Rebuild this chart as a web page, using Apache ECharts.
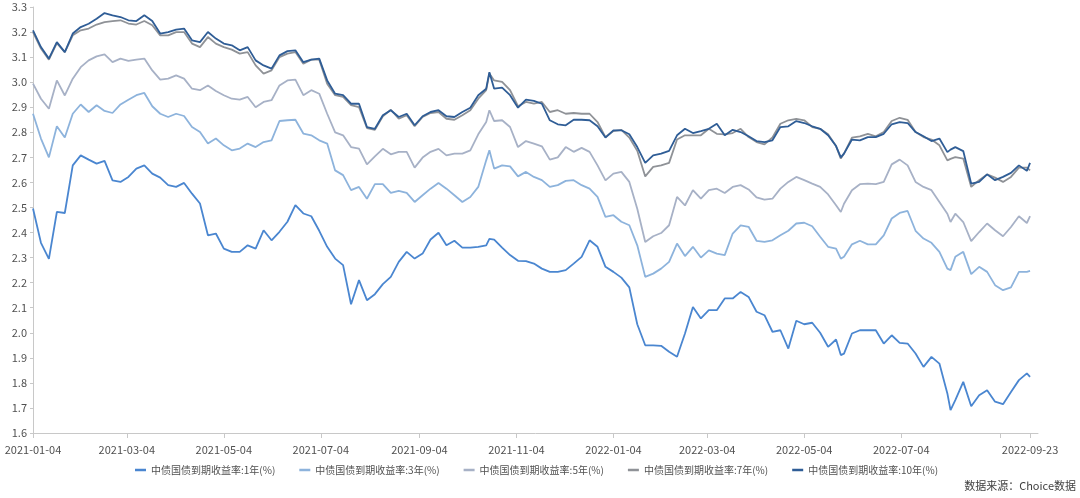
<!DOCTYPE html>
<html>
<head>
<meta charset="utf-8">
<script src="https://cdn.jsdelivr.net/npm/echarts@6/dist/echarts.min.js"></script>
<style>
html,body{margin:0;padding:0;background:#fff;}
#chart{width:1080px;height:498px;}
</style>
</head>
<body>
<div id="chart"></div>
<script>
const dates = [
'2021-01-04','2021-01-09','2021-01-14','2021-01-19','2021-01-24','2021-01-29','2021-02-03','2021-02-08','2021-02-13','2021-02-18','2021-02-23','2021-02-28',
'2021-03-05','2021-03-10','2021-03-15','2021-03-20','2021-03-25','2021-03-30','2021-04-04','2021-04-09','2021-04-14','2021-04-19','2021-04-24','2021-04-29',
'2021-05-04','2021-05-09','2021-05-14','2021-05-19','2021-05-24','2021-05-29','2021-06-03','2021-06-08','2021-06-13','2021-06-18','2021-06-23','2021-06-28',
'2021-07-03','2021-07-08','2021-07-13','2021-07-18','2021-07-23','2021-07-28',
'2021-08-02','2021-08-07','2021-08-12','2021-08-17','2021-08-22','2021-08-27','2021-09-01','2021-09-06','2021-09-11','2021-09-16','2021-09-21','2021-09-26',
'2021-10-01','2021-10-06','2021-10-11','2021-10-16','2021-10-18','2021-10-21','2021-10-26','2021-10-31','2021-11-05','2021-11-10','2021-11-15','2021-11-20','2021-11-25',
'2021-11-30','2021-12-05','2021-12-10','2021-12-15','2021-12-20','2021-12-25','2021-12-30','2022-01-04','2022-01-09','2022-01-14','2022-01-19','2022-01-24','2022-01-29',
'2022-02-03','2022-02-08','2022-02-13','2022-02-18','2022-02-23','2022-02-28','2022-03-05','2022-03-10',
'2022-03-15','2022-03-20','2022-03-25','2022-03-30','2022-04-04','2022-04-09','2022-04-14','2022-04-19','2022-04-24','2022-04-29',
'2022-05-04','2022-05-09','2022-05-14','2022-05-19','2022-05-24','2022-05-27','2022-05-29','2022-06-03','2022-06-08','2022-06-13','2022-06-18','2022-06-23','2022-06-28',
'2022-07-03','2022-07-08','2022-07-13','2022-07-18','2022-07-23','2022-07-28','2022-08-02','2022-08-04','2022-08-07','2022-08-12','2022-08-17','2022-08-22','2022-08-27',
'2022-09-01','2022-09-06','2022-09-11','2022-09-16','2022-09-21','2022-09-23'
];

const y1 = [
2.496,2.359,2.295,2.482,2.478,2.668,2.708,2.691,2.675,2.686,2.608,2.602,
2.622,2.655,2.668,2.635,2.619,2.589,2.582,2.598,2.555,2.516,2.389,2.396,
2.336,2.323,2.323,2.349,2.336,2.409,2.369,2.403,2.443,2.509,2.476,2.465,
2.407,2.343,2.296,2.27,2.114,2.21,
2.13,2.154,2.194,2.223,2.283,2.323,2.296,2.316,2.372,2.399,2.349,2.367,
2.34,2.34,2.343,2.349,2.375,2.372,2.34,2.31,2.287,2.286,2.276,2.256,2.243,
2.243,2.25,2.276,2.303,2.369,2.343,2.263,2.243,2.22,2.181,2.034,1.95,1.95,
1.948,1.924,1.904,1.997,2.103,2.057,2.09,2.09,
2.137,2.137,2.163,2.143,2.084,2.07,2.004,2.01,1.937,2.048,
2.034,2.04,2.0,1.944,1.973,1.911,1.917,1.997,2.01,2.01,2.01,1.957,1.99,
1.96,1.957,1.917,1.864,1.904,1.877,1.758,1.691,1.731,1.804,1.707,1.751,1.771,
1.725,1.715,1.764,1.811,1.838,1.824
];

const y3 = [
2.874,2.775,2.70,2.824,2.779,2.874,2.911,2.881,2.908,2.885,2.877,2.911,
2.93,2.948,2.957,2.904,2.874,2.861,2.874,2.865,2.821,2.801,2.755,2.775,
2.748,2.728,2.735,2.755,2.741,2.761,2.768,2.845,2.848,2.85,2.795,2.788,
2.768,2.755,2.648,2.629,2.569,2.582,
2.535,2.593,2.593,2.558,2.566,2.558,2.522,2.549,2.575,2.598,2.575,2.549,
2.522,2.542,2.582,2.688,2.728,2.655,2.668,2.664,2.624,2.642,2.622,2.609,2.582,
2.589,2.606,2.609,2.589,2.575,2.542,2.462,2.469,2.443,2.429,2.349,2.223,2.236,
2.256,2.283,2.356,2.306,2.343,2.30,2.329,2.316,
2.31,2.396,2.429,2.423,2.367,2.363,2.369,2.389,2.407,2.436,
2.439,2.425,2.383,2.343,2.336,2.296,2.303,2.353,2.367,2.353,2.353,2.389,2.456,
2.478,2.486,2.407,2.376,2.359,2.323,2.256,2.25,2.303,2.323,2.234,2.263,2.243,
2.19,2.17,2.181,2.243,2.243,2.247
];

const y5 = [
2.994,2.934,2.894,3.007,2.947,3.014,3.06,3.087,3.103,3.111,3.08,3.094,
3.085,3.09,3.094,3.047,3.01,3.014,3.027,3.014,2.974,2.968,2.987,2.965,
2.948,2.934,2.93,2.941,2.90,2.921,2.928,2.987,3.007,3.01,2.948,2.968,
2.954,2.874,2.80,2.788,2.741,2.735,
2.672,2.704,2.734,2.712,2.722,2.722,2.659,2.699,2.722,2.734,2.708,2.715,
2.715,2.728,2.792,2.841,2.888,2.845,2.848,2.821,2.741,2.765,2.755,2.744,2.691,
2.70,2.741,2.722,2.738,2.722,2.668,2.608,2.635,2.642,2.602,2.495,2.362,2.385,
2.398,2.429,2.542,2.508,2.569,2.535,2.569,2.575,
2.558,2.582,2.589,2.572,2.54,2.531,2.535,2.575,2.602,2.622,
2.609,2.595,2.582,2.552,2.509,2.482,2.515,2.569,2.593,2.595,2.593,2.602,2.672,
2.691,2.668,2.602,2.582,2.569,2.522,2.475,2.442,2.475,2.442,2.366,2.402,2.436,
2.409,2.385,2.422,2.465,2.438,2.465
];

const y7 = [
3.20,3.134,3.09,3.156,3.12,3.187,3.207,3.214,3.23,3.24,3.244,3.247,
3.234,3.23,3.244,3.227,3.187,3.187,3.20,3.20,3.154,3.14,3.18,3.154,
3.14,3.13,3.114,3.12,3.067,3.034,3.047,3.10,3.114,3.12,3.074,3.09,
3.09,2.994,2.948,2.941,2.908,2.90,
2.817,2.81,2.864,2.89,2.854,2.868,2.824,2.861,2.877,2.881,2.854,2.85,
2.868,2.888,2.934,2.968,3.035,3.007,3.001,2.968,2.904,2.921,2.914,2.921,2.881,
2.888,2.874,2.877,2.874,2.874,2.841,2.781,2.805,2.81,2.779,2.726,2.624,2.662,
2.668,2.678,2.771,2.788,2.788,2.788,2.814,2.794,
2.792,2.797,2.814,2.781,2.761,2.752,2.779,2.834,2.848,2.854,
2.848,2.821,2.814,2.792,2.745,2.695,2.715,2.779,2.784,2.794,2.784,2.801,2.845,
2.858,2.85,2.801,2.781,2.771,2.748,2.688,2.694,2.701,2.695,2.582,2.609,2.632,
2.619,2.602,2.622,2.659,2.659,2.648
];

const y10 = [
3.207,3.14,3.094,3.16,3.12,3.194,3.22,3.233,3.253,3.276,3.267,3.26,
3.247,3.244,3.267,3.244,3.194,3.20,3.21,3.214,3.167,3.16,3.20,3.174,
3.154,3.147,3.127,3.14,3.087,3.067,3.054,3.107,3.124,3.127,3.08,3.09,
3.094,3.007,2.954,2.948,2.914,2.914,
2.821,2.814,2.868,2.888,2.861,2.874,2.828,2.864,2.881,2.888,2.864,2.861,
2.881,2.898,2.948,2.974,3.04,2.974,2.978,2.948,2.898,2.93,2.925,2.914,2.848,
2.832,2.828,2.85,2.85,2.848,2.824,2.779,2.808,2.808,2.792,2.741,2.678,2.708,
2.715,2.726,2.788,2.814,2.797,2.805,2.814,2.834,
2.788,2.81,2.801,2.784,2.765,2.761,2.768,2.821,2.824,2.845,
2.837,2.824,2.814,2.788,2.745,2.70,2.715,2.771,2.768,2.781,2.781,2.794,2.832,
2.841,2.837,2.801,2.784,2.765,2.775,2.721,2.731,2.741,2.725,2.595,2.602,2.632,
2.609,2.622,2.638,2.668,2.646,2.678
];

const seriesNames = ['中债国债到期收益率:1年(%)','中债国债到期收益率:3年(%)','中债国债到期收益率:5年(%)','中债国债到期收益率:7年(%)','中债国债到期收益率:10年(%)'];
const seriesColors = ['#4a86d0','#8db3dc','#a7b1c6','#8f9297','#2f5d96'];
const xLabelDates = ['2021-01-04','2021-03-04','2021-05-04','2021-07-04','2021-09-04','2021-11-04','2022-01-04','2022-03-04','2022-05-04','2022-07-04','2022-09-23'];
const xTickDates = ['2021-01-04','2021-03-04','2021-05-04','2021-07-04','2021-09-04','2021-11-04','2022-01-04','2022-03-04','2022-05-04','2022-07-04','2022-09-04','2022-09-23'];
const xMin = '2021-01-04', xMax = '2022-09-28';
const sourceText = '数据来源：Choice数据';

function ts(s){ const p = s.split('-').map(Number); return Date.UTC(p[0], p[1]-1, p[2]); }
function pad(n){ return (n<10?'0':'')+n; }
function fmt(v){ const d = new Date(v); return d.getUTCFullYear()+'-'+pad(d.getUTCMonth()+1)+'-'+pad(d.getUTCDate()); }

const allY = [y1,y3,y5,y7,y10];
const FONT = "'Microsoft YaHei','Noto Sans CJK SC',sans-serif";

const chart = echarts.init(document.getElementById('chart'), null, {renderer:'canvas'});
chart.setOption({
  animation: false,
  backgroundColor: '#ffffff',
  textStyle: {fontFamily: FONT},
  grid: {left: 33, right: 42, top: 7, bottom: 65, containLabel: false, outerBoundsMode: 'none'},
  legend: {
    left: 130, top: 460,
    itemWidth: 11, itemHeight: 2.5, itemGap: 24,
    icon: 'rect',
    textStyle: {fontSize: 10, color: '#505050', fontFamily: FONT},
    data: seriesNames
  },
  graphic: [{
    type: 'text', right: 4, top: 480,
    style: {text: sourceText, fontSize: 11, fill: '#404040', fontFamily: FONT}
  }],
  xAxis: {
    type: 'value',
    min: ts(xMin), max: ts(xMax),
    splitLine: {show: false},
    axisLine: {lineStyle: {color: '#c8c8c8', width: 1}},
    axisTick: {show: true, length: 5, lineStyle: {color: '#c8c8c8'}, customValues: xTickDates.map(ts)},
    axisLabel: {
      customValues: xLabelDates.map(ts),
      formatter: function(v){ return fmt(v); },
      fontSize: 11, color: '#505050', margin: 11, hideOverlap: false, fontFamily: FONT
    }
  },
  yAxis: {
    type: 'value',
    min: 1.6, max: 3.3, interval: 0.1,
    splitLine: {show: false},
    axisLine: {show: true, lineStyle: {color: '#c8c8c8', width: 1}},
    axisTick: {show: true, length: 3, lineStyle: {color: '#c8c8c8'}},
    axisLabel: {formatter: function(v){ return v.toFixed(1); }, fontSize: 11, color: '#505050', margin: 6, fontFamily: FONT}
  },
  series: seriesNames.map(function(name, i){
    return {
      name: name,
      type: 'line',
      showSymbol: false,
      symbol: 'none',
      color: seriesColors[i],
      lineStyle: {width: 1.8, color: seriesColors[i]},
      data: dates.map(function(d, k){ return [ts(d), allY[i][k]]; })
    };
  })
});
</script>
</body>
</html>
